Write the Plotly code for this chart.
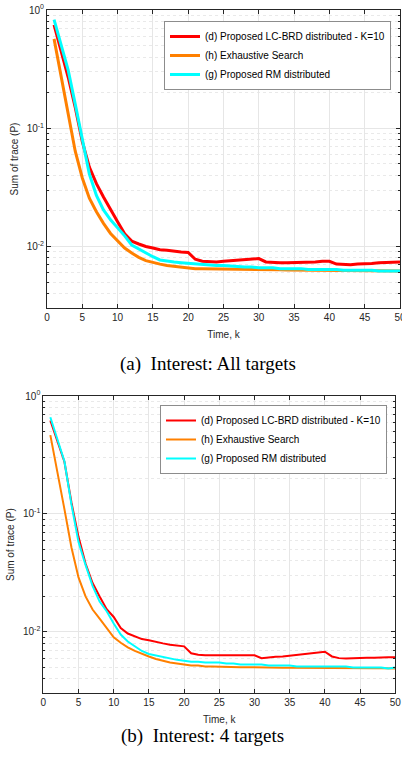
import plotly.graph_objects as go

# ---------------- data ----------------
k = list(range(1, 51))

# (a) Interest: All targets
red_a = [0.75, 0.45, 0.27, 0.15, 0.077, 0.047, 0.034, 0.0262, 0.0203, 0.0162,
         0.0128, 0.0111, 0.0105, 0.0100, 0.0097, 0.0094, 0.0093, 0.0091, 0.0090, 0.0089,
         0.0078, 0.0075, 0.0074, 0.0074, 0.0075, 0.0076, 0.0077, 0.0078, 0.0079, 0.0079,
         0.0074, 0.0073, 0.0073, 0.0073, 0.0073, 0.0074, 0.0074, 0.0074, 0.0075, 0.0075,
         0.0071, 0.0070, 0.0070, 0.0071, 0.0071, 0.0072, 0.0073, 0.0073, 0.0074, 0.0074]
orange_a = [0.57, 0.28, 0.135, 0.064, 0.038, 0.0256, 0.0197, 0.0157, 0.0129, 0.0112,
            0.0097, 0.0088, 0.0081, 0.0076, 0.0073, 0.0071, 0.0069, 0.0068, 0.0067, 0.00656,
            0.0065, 0.00648, 0.00646, 0.00644, 0.00642, 0.0064, 0.0064, 0.00639, 0.00638, 0.00638,
            0.00637, 0.00636, 0.00635, 0.00634, 0.00633, 0.00632, 0.00631, 0.0063, 0.0063, 0.0063,
            0.00629, 0.00628, 0.00627, 0.00626, 0.00625, 0.00624, 0.00623, 0.00622, 0.00621, 0.0062]
cyan_a = [0.83, 0.52, 0.31, 0.16, 0.079, 0.041, 0.0270, 0.0204, 0.0168, 0.0145,
          0.0123, 0.0103, 0.0095, 0.0089, 0.0082, 0.0077, 0.0075, 0.0074, 0.0073, 0.0072,
          0.0071, 0.0070, 0.0069, 0.0069, 0.0069, 0.0068, 0.0068, 0.0067, 0.0067, 0.0066,
          0.0066, 0.0066, 0.0065, 0.0065, 0.0065, 0.0065, 0.0064, 0.0064, 0.0064, 0.0064,
          0.0064, 0.0063, 0.0063, 0.0063, 0.0063, 0.0063, 0.0062, 0.0062, 0.0062, 0.0062]

# (b) Interest: 4 targets
red_b = [0.62, 0.42, 0.277, 0.125, 0.064, 0.038, 0.026, 0.020, 0.0156, 0.0134,
         0.0108, 0.0097, 0.0092, 0.0087, 0.0085, 0.0082, 0.0080, 0.0078, 0.0077, 0.00755,
         0.0066, 0.0064, 0.00635, 0.00634, 0.00634, 0.00634, 0.00634, 0.00634, 0.00634, 0.00634,
         0.0060, 0.0061, 0.00615, 0.0062, 0.0063, 0.0064, 0.0065, 0.0066, 0.0067, 0.0068,
         0.0062, 0.0060, 0.00595, 0.0060, 0.0060, 0.00603, 0.00605, 0.0061, 0.0061, 0.0061]
orange_b = [0.466, 0.235, 0.11, 0.052, 0.029, 0.020, 0.0155, 0.013, 0.0108, 0.0090,
            0.0081, 0.0074, 0.0069, 0.0065, 0.0062, 0.0059, 0.0057, 0.0055, 0.0054, 0.0053,
            0.0052, 0.0052, 0.0051, 0.0051, 0.0051, 0.00505, 0.00505, 0.00503, 0.00502, 0.005,
            0.005, 0.00499, 0.00499, 0.00498, 0.00498, 0.00497, 0.00497, 0.00497, 0.00496, 0.00496,
            0.00495, 0.00495, 0.00494, 0.00494, 0.00493, 0.00493, 0.00492, 0.00492, 0.00491, 0.0049]
cyan_b = [0.66, 0.43, 0.28, 0.12, 0.058, 0.037, 0.0246, 0.0181, 0.0150, 0.0118,
          0.0095, 0.0083, 0.0076, 0.0069, 0.0065, 0.0063, 0.0061, 0.0059, 0.0058, 0.0057,
          0.0056, 0.0056, 0.0055, 0.0055, 0.0055, 0.0054, 0.0054, 0.0053, 0.0053, 0.0053,
          0.0053, 0.0052, 0.0052, 0.0052, 0.0052, 0.0051, 0.0051, 0.0051, 0.0051, 0.0051,
          0.0051, 0.0051, 0.0051, 0.0050, 0.0050, 0.0050, 0.0050, 0.0050, 0.0049, 0.0050]

names = ["(d) Proposed LC-BRD distributed - K=10",
         "(h) Exhaustive Search",
         "(g) Proposed RM distributed"]
colors = ["#FF0000", "#FF8000", "#00FFFF"]
x_ticks = list(range(0, 51, 5))
y_ticks = [0.01, 0.1, 1]
y_ticktext = ["10<sup>-2</sup>", "10<sup>-1</sup>", "10<sup>0</sup>"]
y_minor = [m * 10 ** e for e in (-3, -2, -1) for m in range(2, 10) if m * 10 ** e >= 0.003]
captions = ["(a)\u00a0 Interest: All targets", "(b)\u00a0 Interest: 4 targets"]

# ---------------- figure ----------------
W, H = 402, 761
fig = go.Figure()

for series, xa, ya, lw, leg in [((red_a, orange_a, cyan_a), "x", "y", 3, "legend"),
                                ((red_b, orange_b, cyan_b), "x2", "y2", 2, "legend2")]:
    for vals, nm, c in zip(series, names, colors):
        fig.add_trace(go.Scatter(x=k, y=vals, mode="lines", name=nm,
                                 line=dict(color=c, width=lw),
                                 xaxis=xa, yaxis=ya, legend=leg))

axcol = "#262626"
font = "Liberation Sans, Arial, sans-serif"


def xax(domain, anchor):
    return dict(domain=domain, anchor=anchor, range=[0, 50], tickvals=x_ticks,
                automargin=False, ticklabeloverflow="allow",
                showline=True, linecolor=axcol, linewidth=1, mirror="allticks",
                ticks="inside", ticklen=4, tickcolor=axcol,
                showgrid=True, gridcolor="#e6e6e6", gridwidth=1, zeroline=False,
                tickfont=dict(family=font, size=10, color=axcol),
                title=dict(text="Time, k", font=dict(family=font, size=10, color=axcol), standoff=8))


def yax(domain, anchor):
    return dict(domain=domain, anchor=anchor, type="log", range=[-2.52, 0],
                automargin=False,
                tickvals=y_ticks, ticktext=y_ticktext,
                showline=True, linecolor=axcol, linewidth=1, mirror="allticks",
                ticks="inside", ticklen=4, tickcolor=axcol,
                showgrid=True, gridcolor="#e6e6e6", gridwidth=1, zeroline=False,
                minor=dict(tickvals=y_minor, ticks="inside", ticklen=2, tickcolor=axcol,
                           showgrid=True, gridcolor="#e9e9e9", griddash="dot", gridwidth=1),
                tickfont=dict(family=font, size=10, color=axcol),
                title=dict(text="Sum of trace (P)", font=dict(family=font, size=10, color=axcol), standoff=6))


leg_style = dict(xanchor="right", yanchor="top", bgcolor="white",
                 bordercolor="#8c8c8c", borderwidth=1,
                 font=dict(family=font, size=10, color="#000000"))

cap_font = dict(family="Liberation Serif, Times New Roman, serif", size=19, color="black")

fig.update_layout(
    width=W, height=H,
    margin=dict(l=0, r=0, t=0, b=0, autoexpand=False),
    paper_bgcolor="white", plot_bgcolor="white",
    xaxis=xax([47 / W, 400 / W], "y"),
    yaxis=yax([1 - 308 / H, 1 - 10 / H], "x"),
    xaxis2=xax([43.3 / W, 395.3 / W], "y2"),
    yaxis2=yax([1 - 693.3 / H, 1 - 396 / H], "x2"),
    legend=dict(x=391 / W, y=1 - 21 / H, **leg_style),
    legend2=dict(x=387 / W, y=1 - 405 / H, **leg_style),
    annotations=[
        dict(text=captions[0], x=208 / W, y=1 - 364 / H, xref="paper", yref="paper",
             showarrow=False, font=cap_font),
        dict(text=captions[1], x=202 / W, y=1 - 749 / H, xref="paper", yref="paper",
             showarrow=False, font=cap_font),
    ],
    showlegend=True,
)

fig.write_html("out.html")
